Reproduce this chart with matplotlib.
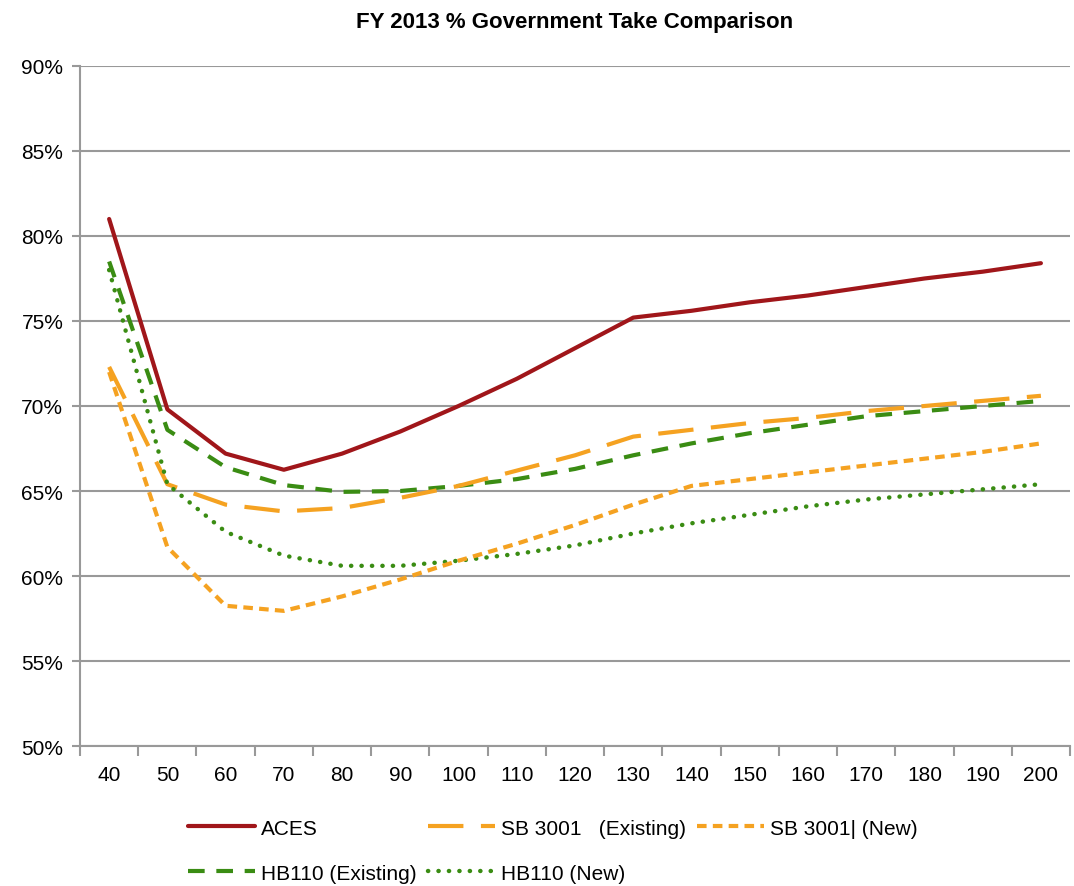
import numpy as np
import matplotlib
matplotlib.use("Agg")
import matplotlib.pyplot as plt
from matplotlib.font_manager import fontManager

names = {f.name for f in fontManager.ttflist}
fam = "Liberation Sans Narrow" if "Liberation Sans Narrow" in names else "Liberation Sans"
plt.rcParams['font.family'] = [fam, 'DejaVu Sans']

prices = [40, 50, 60, 70, 80, 90, 100, 110, 120, 130, 140, 150, 160, 170, 180, 190, 200]
aces = [81.0, 69.8, 67.2, 66.25, 67.2, 68.5, 70.0, 71.6, 73.4, 75.2, 75.6, 76.1, 76.5, 77.0, 77.5, 77.9, 78.4]
sb_exist = [72.3, 65.4, 64.2, 63.8, 64.0, 64.6, 65.3, 66.2, 67.1, 68.2, 68.6, 69.0, 69.3, 69.7, 70.0, 70.3, 70.6]
sb_new = [72.0, 61.7, 58.25, 57.95, 58.8, 59.8, 60.9, 61.9, 63.0, 64.2, 65.3, 65.7, 66.1, 66.5, 66.9, 67.3, 67.8]
hb_exist = [78.5, 68.6, 66.4, 65.35, 64.95, 65.0, 65.3, 65.7, 66.3, 67.1, 67.8, 68.4, 68.9, 69.4, 69.7, 70.0, 70.3]
hb_new = [78.0, 65.4, 62.6, 61.2, 60.6, 60.6, 60.9, 61.3, 61.8, 62.5, 63.1, 63.6, 64.1, 64.5, 64.8, 65.1, 65.4]

red = '#A0161A'
orange = '#F5A221'
green = '#3A8C13'

fig = plt.figure(figsize=(10.74, 8.87), dpi=100)
ax = fig.add_axes([0.0745, 0.1578, 0.9218, 0.7667])
x = np.arange(len(prices))

ax.plot(x, aces, color=red, lw=3, solid_capstyle='round', label='ACES')
ax.plot(x, hb_exist, color=green, lw=3, dashes=(4.0, 2.8), label='HB110 (Existing)')
ax.plot(x, sb_exist, color=orange, lw=3, dashes=(8.5, 4.2), label='SB 3001   (Existing)')
ax.plot(x, hb_new, color=green, lw=3.2, dashes=(0.05, 2.3), dash_capstyle='round', label='HB110 (New)')
ax.plot(x, sb_new, color=orange, lw=3, dashes=(2.3, 1.5), label='SB 3001| (New)')

ax.set_xlim(-0.5, len(prices) - 0.5)
ax.set_ylim(50, 90)
ax.set_yticks(np.arange(50, 91, 5))
ax.set_yticklabels(['{}%'.format(v) for v in range(50, 91, 5)])
ax.set_xticks(x)
ax.set_xticklabels([str(p) for p in prices])
ax.set_xticks(np.arange(-0.5, len(prices)), minor=True)
ax.tick_params(axis='x', which='major', length=0, pad=14, labelsize=15)
ax.tick_params(axis='x', which='minor', length=7, width=1.5, color='#999999')
ax.tick_params(axis='y', length=6, width=1.5, color='#999999', labelsize=15, pad=6)

ax.grid(axis='y', color='#999999', lw=1.5)
ax.set_axisbelow(True)
for s in ['top', 'right']:
    ax.spines[s].set_visible(False)
for s in ['left', 'bottom']:
    ax.spines[s].set_color('#999999')
    ax.spines[s].set_linewidth(1.5)

ax.set_title('FY 2013 % Government Take Comparison', fontsize=16, fontweight='bold', pad=28)

ax.legend(ncol=3, loc='upper left', bbox_to_anchor=(0.09, -0.079), frameon=False,
          fontsize=15, handlelength=3.2, columnspacing=0.55, labelspacing=1.25, handletextpad=0.3)

plt.savefig('out.png', dpi=100)
